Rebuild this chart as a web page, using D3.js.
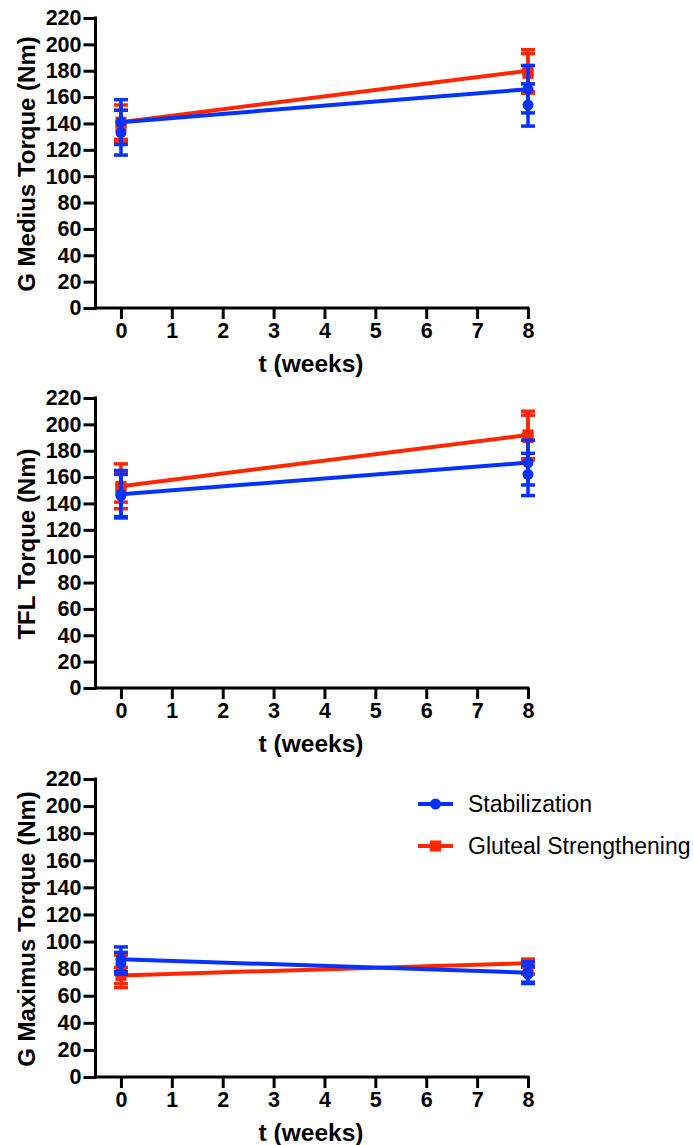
<!DOCTYPE html>
<html>
<head>
  <meta charset="UTF-8">
  <style>
    body { margin: 0; background: #fff; }
    svg { display: block; font-family: "Liberation Sans", Arial, Helvetica, sans-serif; }
  </style>
</head>
<body>
  <svg></svg>
<script src="https://d3js.org/d3.v7.min.js"></script>
<script>

let width = 693,
    height = 1145;

let svg = d3.select("svg")
    .attr("width", width)
    .attr("height", height);

// data
const weeks = [0, 8];
const xTicks = [0, 1, 2, 3, 4, 5, 6, 7, 8];
const yTicks = [0, 20, 40, 60, 80, 100, 120, 140, 160, 180, 200, 220];
const seriesNames = ["Stabilization", "Gluteal Strengthening"];
const titles = ["G Medius Torque (Nm)", "TFL Torque (Nm)", "G Maximus Torque (Nm)"];

// G Medius
const medStab = [141, 166], medStabErr = [17, 18];
const medStabAlt = [133, 154], medStabAltErr = [17, 16];
const medGlut = [141, 180], medGlutErr = [13, 16];
const medGlutAlt = [138, 178], medGlutAltErr = [12, 15];
// TFL
const tflStab = [147, 171], tflStabErr = [18, 17];
const tflStabAlt = [146, 162], tflStabAltErr = [16, 16];
const tflGlut = [153, 192], tflGlutErr = [17, 18];
const tflGlutAlt = [152, 190], tflGlutAltErr = [11, 17];
// G Maximus
const maxStab = [87, 77], maxStabErr = [9, 8];
const maxStabAlt = [84, 76], maxStabAltErr = [8, 6];
const maxGlut = [75, 84], maxGlutErr = [6, 3];
const maxGlutAlt = [78, 81], maxGlutAltErr = [12, 5];

const blue = "#0433ff", red = "#ff2600";

let panels = [
  { title: titles[0], top: 18, bottom: 308,
    stab: [medStab, medStabErr, medStabAlt, medStabAltErr],
    glut: [medGlut, medGlutErr, medGlutAlt, medGlutAltErr] },
  { title: titles[1], top: 398, bottom: 688,
    stab: [tflStab, tflStabErr, tflStabAlt, tflStabAltErr],
    glut: [tflGlut, tflGlutErr, tflGlutAlt, tflGlutAltErr] },
  { title: titles[2], top: 779, bottom: 1077,
    stab: [maxStab, maxStabErr, maxStabAlt, maxStabAltErr],
    glut: [maxGlut, maxGlutErr, maxGlutAlt, maxGlutAltErr] }
];

let x = d3.scaleLinear().domain([-0.5, 8]).range([95.5, 528]);

function drawSeries(g, y, s, color, shape) {
  let pts = [];
  weeks.forEach((w, i) => {
    pts.push({ x: w, v: s[2][i], e: s[3][i] });
    pts.push({ x: w, v: s[0][i], e: s[1][i] });
  });

  g.append("path")
    .attr("fill", "none")
    .attr("stroke", color)
    .attr("stroke-width", 4)
    .attr("d", d3.line().x((d, i) => x(weeks[i])).y(d => y(d))(s[0]));

  let eb = g.append("g").selectAll("g").data(pts).enter().append("g")
    .attr("stroke", color).attr("stroke-width", 3.5);
  eb.append("line")
    .attr("x1", d => x(d.x)).attr("x2", d => x(d.x))
    .attr("y1", d => y(d.v - d.e)).attr("y2", d => y(d.v + d.e));
  eb.append("line")
    .attr("x1", d => x(d.x) - 7).attr("x2", d => x(d.x) + 7)
    .attr("y1", d => y(d.v + d.e)).attr("y2", d => y(d.v + d.e));
  eb.append("line")
    .attr("x1", d => x(d.x) - 7).attr("x2", d => x(d.x) + 7)
    .attr("y1", d => y(d.v - d.e)).attr("y2", d => y(d.v - d.e));

  if (shape == "circle") {
    g.append("g").selectAll("circle").data(pts).enter().append("circle")
      .attr("cx", d => x(d.x)).attr("cy", d => y(d.v)).attr("r", 5.5)
      .attr("fill", color);
  } else {
    g.append("g").selectAll("rect").data(pts).enter().append("rect")
      .attr("x", d => x(d.x) - 5.5).attr("y", d => y(d.v) - 5.5)
      .attr("width", 11).attr("height", 11)
      .attr("fill", color);
  }
}

panels.forEach(p => {
  let y = d3.scaleLinear().domain([0, 220]).range([p.bottom, p.top]);
  let g = svg.append("g");

  let ya = g.append("g")
    .attr("transform", "translate(95.5,0)")
    .call(d3.axisLeft(y).tickValues(yTicks).tickSize(12).tickSizeOuter(0).tickPadding(2));
  ya.select(".domain").attr("stroke-width", 3).attr("d", "M0," + (p.bottom + 1.5) + "V" + (p.top - 1.5));

  let xa = g.append("g")
    .attr("transform", "translate(0," + p.bottom + ")")
    .call(d3.axisBottom(x).tickValues(xTicks).tickSize(11).tickSizeOuter(0).tickPadding(4));
  xa.select(".domain").attr("stroke-width", 3).attr("d", "M94,0H529.5");

  [ya, xa].forEach(a => {
    a.selectAll(".tick line").attr("stroke-width", 3);
    a.selectAll("text")
      .attr("font-size", 21.5).attr("font-weight", "bold")
      .attr("font-family", "'Liberation Sans', Arial, sans-serif")
      .attr("fill", "#000");
  });

  g.append("text")
    .attr("x", 311).attr("y", p.bottom + 64)
    .attr("text-anchor", "middle")
    .attr("font-size", 24.5).attr("font-weight", "bold")
    .text("t (weeks)");

  g.append("text")
    .attr("transform", "translate(35," + ((p.top + p.bottom) / 2 + 1) + ") rotate(-90)")
    .attr("text-anchor", "middle")
    .attr("font-size", 24).attr("font-weight", "bold")
    .text(p.title);

  drawSeries(g, y, p.glut, red, "square");
  drawSeries(g, y, p.stab, blue, "circle");
});

// legend
let legend = svg.append("g")
  .selectAll("g").data(seriesNames).enter().append("g")
  .attr("transform", (d, i) => "translate(418," + (804 + i * 42) + ")");
legend.append("line")
  .attr("x1", 0).attr("x2", 35)
  .attr("stroke", (d, i) => i ? red : blue).attr("stroke-width", 4);
legend.filter((d, i) => i == 0).append("circle")
  .attr("cx", 17.5).attr("r", 5.5).attr("fill", blue);
legend.filter((d, i) => i == 1).append("rect")
  .attr("x", 12).attr("y", -5.5).attr("width", 11).attr("height", 11).attr("fill", red);
legend.append("text")
  .attr("x", 50).attr("dy", "0.35em")
  .attr("font-size", 23)
  .text(d => d);

</script>
</body>
</html>
